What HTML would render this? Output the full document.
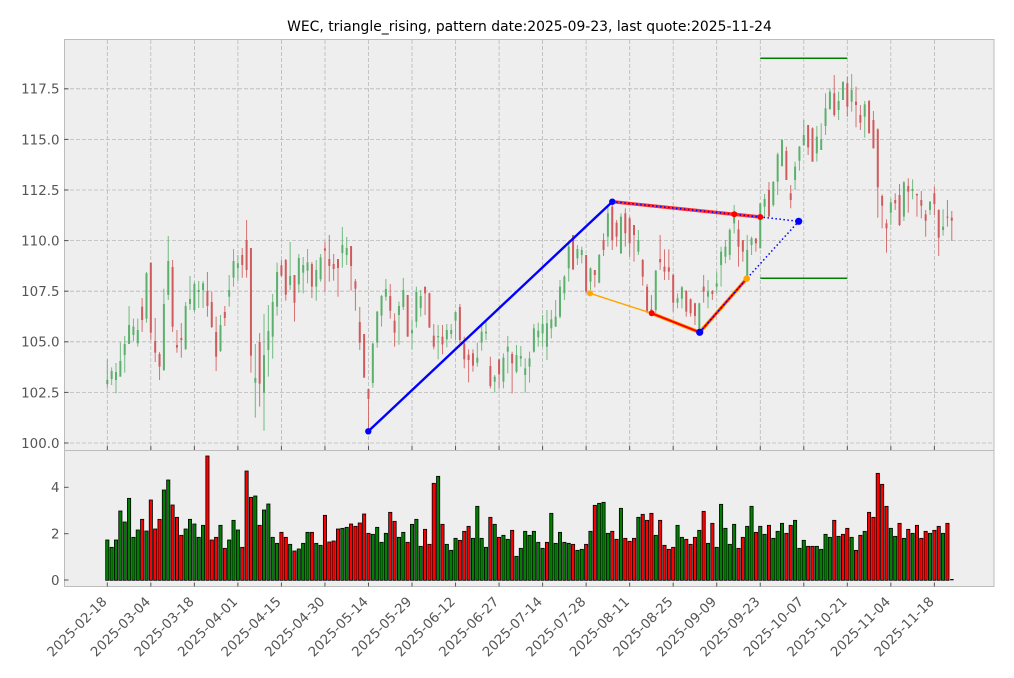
<!DOCTYPE html>
<html><head><meta charset="utf-8"><style>
html,body{margin:0;padding:0;background:#fff;}
svg{display:block;font-family:"DejaVu Sans","Liberation Sans",sans-serif;}
</style></head><body>
<svg id="s" width="1014" height="678" viewBox="0 0 1014 678" xmlns="http://www.w3.org/2000/svg">
<rect x="0" y="0" width="1014" height="678" fill="#fff"/>
<!-- top panel -->
<rect x="64.5" y="39.5" width="929.5" height="411" fill="#eeeeee"/>
<g stroke="#b8b8b8" stroke-width="0.8" stroke-dasharray="4,2" fill="none">
<line x1="64" x2="994" y1="88.8" y2="88.8"/><line x1="64" x2="994" y1="139.4" y2="139.4"/><line x1="64" x2="994" y1="190" y2="190"/><line x1="64" x2="994" y1="240.6" y2="240.6"/><line x1="64" x2="994" y1="291.2" y2="291.2"/><line x1="64" x2="994" y1="341.8" y2="341.8"/><line x1="64" x2="994" y1="392.4" y2="392.4"/><line x1="64" x2="994" y1="443" y2="443"/>
<line x1="107.3" x2="107.3" y1="40" y2="450"/><line x1="150.8" x2="150.8" y1="40" y2="450"/><line x1="194.4" x2="194.4" y1="40" y2="450"/><line x1="237.9" x2="237.9" y1="40" y2="450"/><line x1="281.4" x2="281.4" y1="40" y2="450"/><line x1="325" x2="325" y1="40" y2="450"/><line x1="368.5" x2="368.5" y1="40" y2="450"/><line x1="412" x2="412" y1="40" y2="450"/><line x1="455.5" x2="455.5" y1="40" y2="450"/><line x1="499.1" x2="499.1" y1="40" y2="450"/><line x1="542.6" x2="542.6" y1="40" y2="450"/><line x1="586.1" x2="586.1" y1="40" y2="450"/><line x1="629.7" x2="629.7" y1="40" y2="450"/><line x1="673.2" x2="673.2" y1="40" y2="450"/><line x1="716.7" x2="716.7" y1="40" y2="450"/><line x1="760.3" x2="760.3" y1="40" y2="450"/><line x1="803.8" x2="803.8" y1="40" y2="450"/><line x1="847.3" x2="847.3" y1="40" y2="450"/><line x1="890.8" x2="890.8" y1="40" y2="450"/><line x1="934.4" x2="934.4" y1="40" y2="450"/>
</g>
<g id="candles"></g>
<!-- pattern overlays -->
<line x1="760.3" y1="58.3" x2="847.3" y2="58.3" stroke="#008000" stroke-width="1.5"/>
<line x1="760.3" y1="278.3" x2="847.3" y2="278.3" stroke="#008000" stroke-width="1.5"/>
<line x1="368.3" y1="431.3" x2="612.3" y2="201.7" stroke="#0000ff" stroke-width="2.4"/>
<line x1="612.3" y1="201.7" x2="760.3" y2="217" stroke="#ff0000" stroke-width="3.4" stroke-opacity="0.8"/>
<polyline points="590,293.3 651.7,313.3" fill="none" stroke="#ffa500" stroke-width="1.4"/>
<polyline points="651.7,313.3 699.7,332.3 746.7,278.7" fill="none" stroke="#ffa500" stroke-width="3.6"/>
<polyline points="651.7,313.3 699.7,332.3 746.7,278.7" fill="none" stroke="#ff0000" stroke-width="2"/>
<polyline points="612.3,201.7 760.3,217 798.7,221.3" fill="none" stroke="#0000ff" stroke-width="1.5" stroke-dasharray="1.5,2.5"/>
<polyline points="699.7,332.3 746.7,278.7 798.7,221.3" fill="none" stroke="#0000ff" stroke-width="1.5" stroke-dasharray="1.5,2.5"/>
<circle cx="590" cy="293.3" r="3" fill="#ffa500"/>
<circle cx="746.7" cy="278.7" r="3.3" fill="#ffa500"/>
<circle cx="651.7" cy="313.3" r="3" fill="#ff0000"/>
<circle cx="734.3" cy="214.3" r="3" fill="#ff0000"/>
<circle cx="760.3" cy="217" r="3" fill="#ff0000"/>
<circle cx="368.3" cy="431.3" r="3.2" fill="#0000ff"/>
<circle cx="612.3" cy="201.7" r="3.2" fill="#0000ff"/>
<circle cx="699.7" cy="332.3" r="3.6" fill="#0000ff"/>
<circle cx="798.7" cy="221.3" r="3.6" fill="#0000ff"/>
<rect x="64.5" y="39.5" width="929.5" height="411" fill="none" stroke="#bcbcbc" stroke-width="1"/>
<g stroke="#555" stroke-width="1">
<line x1="64" x2="68.5" y1="88.8" y2="88.8"/><line x1="64" x2="68.5" y1="139.4" y2="139.4"/><line x1="64" x2="68.5" y1="190" y2="190"/><line x1="64" x2="68.5" y1="240.6" y2="240.6"/><line x1="64" x2="68.5" y1="291.2" y2="291.2"/><line x1="64" x2="68.5" y1="341.8" y2="341.8"/><line x1="64" x2="68.5" y1="392.4" y2="392.4"/><line x1="64" x2="68.5" y1="443" y2="443"/>
</g>
<g id="xt1" stroke="#555" stroke-width="1"></g>
<!-- bottom panel -->
<rect x="64.5" y="450.5" width="929.5" height="136" fill="#eeeeee"/>
<g id="vol"></g>
<rect x="64.5" y="450.5" width="929.5" height="136" fill="none" stroke="#bcbcbc" stroke-width="1"/>
<g stroke="#555" stroke-width="1">
<line x1="64" x2="68.5" y1="487.3" y2="487.3"/><line x1="64" x2="68.5" y1="533.7" y2="533.7"/><line x1="64" x2="68.5" y1="580" y2="580"/>
</g>
<g id="xt2" stroke="#555" stroke-width="1"></g>
<!-- text -->
<text x="529.5" y="31" text-anchor="middle" font-size="13.9" fill="#000">WEC, triangle_rising, pattern date:2025-09-23, last quote:2025-11-24</text>
<g font-size="13.4" fill="#555" text-anchor="end">
<text x="59.5" y="93.7">117.5</text><text x="59.5" y="144.3">115.0</text><text x="59.5" y="194.9">112.5</text><text x="59.5" y="245.5">110.0</text><text x="59.5" y="296.1">107.5</text><text x="59.5" y="346.7">105.0</text><text x="59.5" y="397.3">102.5</text><text x="59.5" y="447.9">100.0</text>
<text x="59.5" y="492.2">4</text><text x="59.5" y="538.6">2</text><text x="59.5" y="584.9">0</text>
</g>
<g font-size="13.4" fill="#555" text-anchor="end">
<text transform="translate(104.3,599) rotate(-45)" dy="0.36em">2025-02-18</text>
<text transform="translate(147.8,599) rotate(-45)" dy="0.36em">2025-03-04</text>
<text transform="translate(191.4,599) rotate(-45)" dy="0.36em">2025-03-18</text>
<text transform="translate(234.9,599) rotate(-45)" dy="0.36em">2025-04-01</text>
<text transform="translate(278.4,599) rotate(-45)" dy="0.36em">2025-04-15</text>
<text transform="translate(322,599) rotate(-45)" dy="0.36em">2025-04-30</text>
<text transform="translate(365.5,599) rotate(-45)" dy="0.36em">2025-05-14</text>
<text transform="translate(409,599) rotate(-45)" dy="0.36em">2025-05-29</text>
<text transform="translate(452.5,599) rotate(-45)" dy="0.36em">2025-06-12</text>
<text transform="translate(496.1,599) rotate(-45)" dy="0.36em">2025-06-27</text>
<text transform="translate(539.6,599) rotate(-45)" dy="0.36em">2025-07-14</text>
<text transform="translate(583.1,599) rotate(-45)" dy="0.36em">2025-07-28</text>
<text transform="translate(626.7,599) rotate(-45)" dy="0.36em">2025-08-11</text>
<text transform="translate(670.2,599) rotate(-45)" dy="0.36em">2025-08-25</text>
<text transform="translate(713.7,599) rotate(-45)" dy="0.36em">2025-09-09</text>
<text transform="translate(757.3,599) rotate(-45)" dy="0.36em">2025-09-23</text>
<text transform="translate(800.8,599) rotate(-45)" dy="0.36em">2025-10-07</text>
<text transform="translate(844.3,599) rotate(-45)" dy="0.36em">2025-10-21</text>
<text transform="translate(887.8,599) rotate(-45)" dy="0.36em">2025-11-04</text>
<text transform="translate(931.4,599) rotate(-45)" dy="0.36em">2025-11-18</text>
</g>
</svg>
<script>
(function(){
var ns="http://www.w3.org/2000/svg";
function el(t,a,p){var e=document.createElementNS(ns,t);for(var k in a)e.setAttribute(k,a[k]);p.appendChild(e);return e;}
function X(i){return 107.3+4.353*i;}
var A="G538 625 600 612,G562 615 573 597,G549 640 576 600,G487 590 543 590,G468 578 492 525,G378 492 435 492,G416 483 440 465,G416 500 450 490,R354 456 380 420,G276 428 280 416,R248 480 248 458,R414 546 483 518,R516 600 522 560,G326 573 372 570,G168 360 243 345,R240 456 261 440,R450 518 495 503,R429 533 474 480,G366 510 378 507,G288 390 357 372,G306 396 312 390,G303 384 330 336,G303 384 310 330,R276 410 333 378,R335 444 366 441,R410 573 456 530,G405 516 435 513,R378 438 396 414,G285 380 330 350,G207 320 243 293,G225 302 250 264,R204 293 225 255,R120 293 180 270,R204 578 204 527,G492 713 594 608,R459 680 486 611,G402 752 525 638,G375 590 453 510,G342 536 366 470,G248 407 276 380,R240 290 256 287,R237 362 240 344,G186 330 288 315,R285 425 285 368,G222 338 234 313,G231 340 255 278,G207 310 247 272,R246 354 252 320,G240 362 270 320,G222 305 232 298,R185 335 205 212,R165 305 237 258,R222 302 252 267,R237 350 237 264,G141 263 195 219,G171 255 204 225,R198 332 198 258,R297 392 304 326,R381 510 426 488,R462 593 462 593,R627 752 627 657,G488 623 491 609,G393 503 395 488,G345 440 348 407,G297 362 327 350,R312 416 348 392,R400 500 422 458,G365 494 378 405,G294 390 330 381,R345 470 345 470,G420 508 450 460,G320 443 336 425,G330 410 348 384,R320 405 320 340,R338 443 340 443,R432 508 467 500,G435 538 468 472,R435 523 470 493,G432 502 450 478,G432 476 450 462,G395 480 396 422,R372 490 381 480,R470 565 490 538,R508 607 524 540,R508 575 520 557,G488 560 533 548,G432 512 455 488,G420 480 455 460,R530 625 558 618,G585 638 590 605,R538 625 538 583,G520 625 533 605,G468 580 500 515,R515 640 522 550,G495 580 525 575,G498 560 528 536,G535 638 565 585,G515 608 535 560,G432 518 445 515,G428 500 452 472,"+
"G405 500 432 460,G390 540 430 500,G390 475 418 445,G360 440 410 440,G300 415 320 410,G285 360 290 340,G185 305 200 265,R165 270 165 268,G195 255 207 235,G200 250 210 225,R225 340 225 335,G262 330 265 305,R270 322 270 285,G222 310 225 308,R160 228 180 210,G75 200 100 170,R65 210 80 180,R120 200 128 170,G100 222 110 220,R85 200 100 160,R110 230 115 190,R135 245 135 165,G150 225 180 215,R237 317 240 290,R312 400 320 395,R345 400 388 392,G270 400 272 390,R165 270 237 247,R208 300 260 275,R208 300 262 275,R280 395 285 368,G340 385 355 368,G318 385 322 356,R330 410 333 395,R355 410 358 400,R368 435 370 408,G368 455 370 450,R285 368 320 335,G300 385 335 350,R330 360 333 342,G275 340 310 320,G200 320 215 255,G180 250 200 230,G145 240 150 225,G75 160 100 130,R120 260 148 200,R180 245 180 215,G165 295 210 290,G170 225 175 195,R175 215 175 190,G70 205 70 205";
var B="G462 530 477 500,R426 530 450 530,G423 500 426 495,G338 465 343 425,G297 380 300 378,R320 420 333 420,R435 505 460 480,G365 450 380 420,G318 392 320 362,G240 318 285 315,R255 345 255 322,R262 365 265 365,G258 365 290 340,G250 330 298 330,G160 285 205 258,G145 210 155 207,R105 230 160 225,G155 240 183 210,G125 180 125 180,R110 230 130 200,G102 215 150 185,R140 262 185 195,R195 270 225 248,G183 293 193 230,R180 280 183 280,R213 325 240 325,R265 533 268 442,R463 565 468 497,R538 638 550 565,G475 555 487 518,R460 510 480 490,R432 558 465 555,G423 543 427 530,R415 518 438 455,G418 478 447 453,R460 530 462 466,R453 535 480 497,R510 590 523 542,G483 525 485 510,R440 525 460 492,R508 648 510 593,G508 587 560 570,R480 560 530 533,R513 603 533 542";
var cg=document.getElementById("candles");
function draw(s,off,start){
 s.split(",").forEach(function(t,k){
  t=t.trim(); var c=t[0]==="G"?"#5cb06d":"#d05a5c";
  var p=t.slice(1).trim().split(/\s+/).map(function(n){return off+(+n)/3;});
  var x=X(start+k);
  el("line",{x1:x,x2:x,y1:p[0],y2:p[1],stroke:c,"stroke-width":1,"stroke-opacity":0.85},cg);
  var y0=Math.min(p[2],p[3]),h=Math.max(1,Math.abs(p[3]-p[2]));
  el("rect",{x:x-1,y:y0,width:2,height:h,fill:c},cg);
 });
}
draw(A,180,0); draw(B,40,151);
var V="G270,G292,G270,G183,G216,G145,G262,G240,R208,G243,R150,R237,R208,G120,G90,R165,R202,R256,G237,G208,G222,G262,G226,R18,R270,R262,G226,R295,G270,G211,G240,R292,R63,R142,G138,R226,G180,G162,G262,G280,R247,R262,G283,R303,G297,G280,G247,R247,G280,G286,R196,R276,R273,R237,G235,G232,R222,R229,R219,R192,R250,G253,G232,G277,"+
"G250,R187,R214,G262,G247,R277,G223,G208,G289,R238,R283,R100,G79,R223,G283,G301,G265,R271,R244,R229,G265,G169,G265,G292,R202,G223,R262,G256,G268,R241,G319,G295,G244,G256,G244,G277,G295,R277,G190,G280,G247,G277,G280,R283,G301,G298,R283,G244,R166,G160,G157,G250,R244,R268,G175,R265,R274,R265,G202,R193,R211,R190,G256,R211,R286,R298,R292,G226,G262,R268,"+
"R283,R262,G241,R184,G280,R220,G292,G163,G235,G283,G223,R295,R262,G229,G169,R247,G229,G253,R226,G265,G244,G220,R250,R226,G211,G295,G271,R289,R289,G289,G298,G253,G262,R211,G259,R253,R235,G262,R301,R256,G244,R187,R202,R70,R103,R169,G235,G259,R220,G265,R238,G250,R226,R265,R244,G250,R241,R229,G250,R220";
var vg=document.getElementById("vol");
V.split(",").forEach(function(t,i){
 var c=t[0]==="G"?"#008000":"#ff0000"; var top=450+(+t.slice(1))/3; var x=X(i);
 el("rect",{x:x-1.6,y:top,width:3.2,height:580.3-top,fill:c,stroke:"#000","stroke-width":0.8},vg);
});
el("rect",{x:X(194)-1.6,y:579,width:3.4,height:1.3,fill:"#000"},vg);
var t1=document.getElementById("xt1"),t2=document.getElementById("xt2");
for(var k=0;k<20;k++){var x=107.3+43.53*k;
 el("line",{x1:x,x2:x,y1:446,y2:450},t1);
 el("line",{x1:x,x2:x,y1:582.5,y2:586.5},t2);}
})();
</script>
</body></html>
